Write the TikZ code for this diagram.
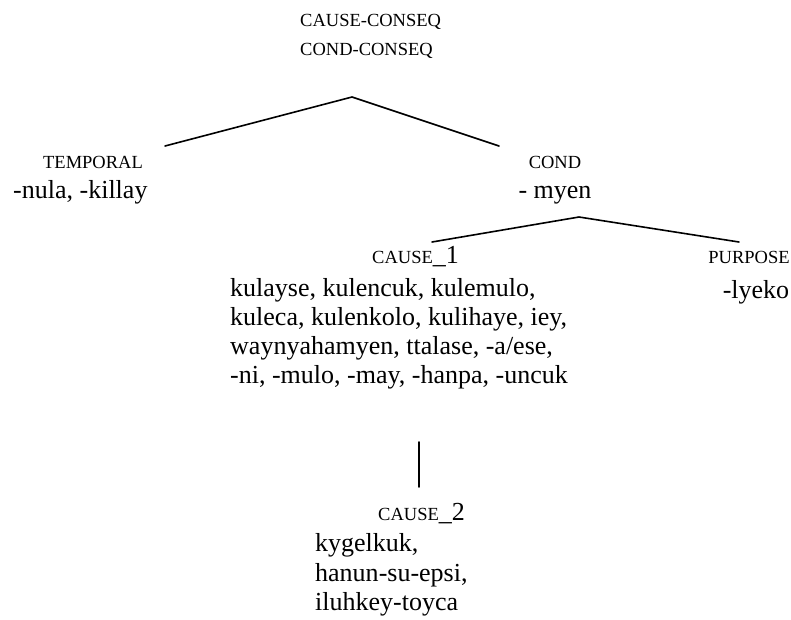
\documentclass[tikz,border=0pt]{standalone}
\usepackage{fontspec}
\setmainfont{Liberation Serif}
\begin{document}
\begin{tikzpicture}[x=1pt,y=-1pt,
  lab/.style={inner sep=0pt,font=\fontsize{18.5}{22}\selectfont},
  body/.style={inner sep=0pt,font=\fontsize{26}{29.5}\selectfont},
  branch/.style={line width=1.6pt,line cap=round,line join=miter}]
\useasboundingbox (0,0) rectangle (791,619);
% top labels
\node[lab,anchor=base west] (top1) at (300,26) {CAUSE-CONSEQ};
\node[lab,anchor=base west] (top2) at (300,55) {COND-CONSEQ};
% first branching
\coordinate (apex1) at (352,97);
\coordinate (l1) at (165,146);
\coordinate (r1) at (499,146);
\draw[branch] (l1) -- (apex1) -- (r1);
% TEMPORAL
\node[lab,anchor=base] (temp) at (93,168) {TEMPORAL};
\node[body,anchor=base west] (tempt) at (13,198) {-nula, -killay};
% COND
\node[lab,anchor=base] (cond) at (555,168) {COND};
\node[body,anchor=base] (condt) at (555,198) {- myen};
% second branching
\coordinate (apex2) at (579,217);
\coordinate (l2) at (432,242);
\coordinate (r2) at (739,242);
\draw[branch] (l2) -- (apex2) -- (r2);
% CAUSE_1
\node[inner sep=0pt,anchor=base west] (c1) at (372,263) {\fontsize{18.5}{22}\selectfont CAUSE\fontsize{26}{29.5}\selectfont\_1};
\node[body,anchor=base west] (c1a) at (230,296) {kulayse, kulencuk, kulemulo,};
\node[body,anchor=base west] (c1b) at (230,325) {kuleca, kulenkolo, kulihaye, iey,};
\node[body,anchor=base west] (c1c) at (230,354) {waynyahamyen, ttalase, -a/ese,};
\node[body,anchor=base west] (c1d) at (230,383) {-ni, -mulo, -may, -hanpa, -uncuk};
% PURPOSE
\node[lab,anchor=base] (purp) at (749,263) {PURPOSE};
\node[body,anchor=base] (purpt) at (756,298) {-lyeko};
% vertical line
\coordinate (vtop) at (419,442);
\coordinate (vbot) at (419,487);
\draw[branch] (vtop) -- (vbot);
% CAUSE_2
\node[inner sep=0pt,anchor=base west] (c2) at (378,520) {\fontsize{18.5}{22}\selectfont CAUSE\fontsize{26}{29.5}\selectfont\_2};
\node[body,anchor=base west] (c2a) at (315,551) {kygelkuk,};
\node[body,anchor=base west] (c2b) at (315,581) {hanun-su-epsi,};
\node[body,anchor=base west] (c2c) at (315,610) {iluhkey-toyca};
\end{tikzpicture}
\end{document}
